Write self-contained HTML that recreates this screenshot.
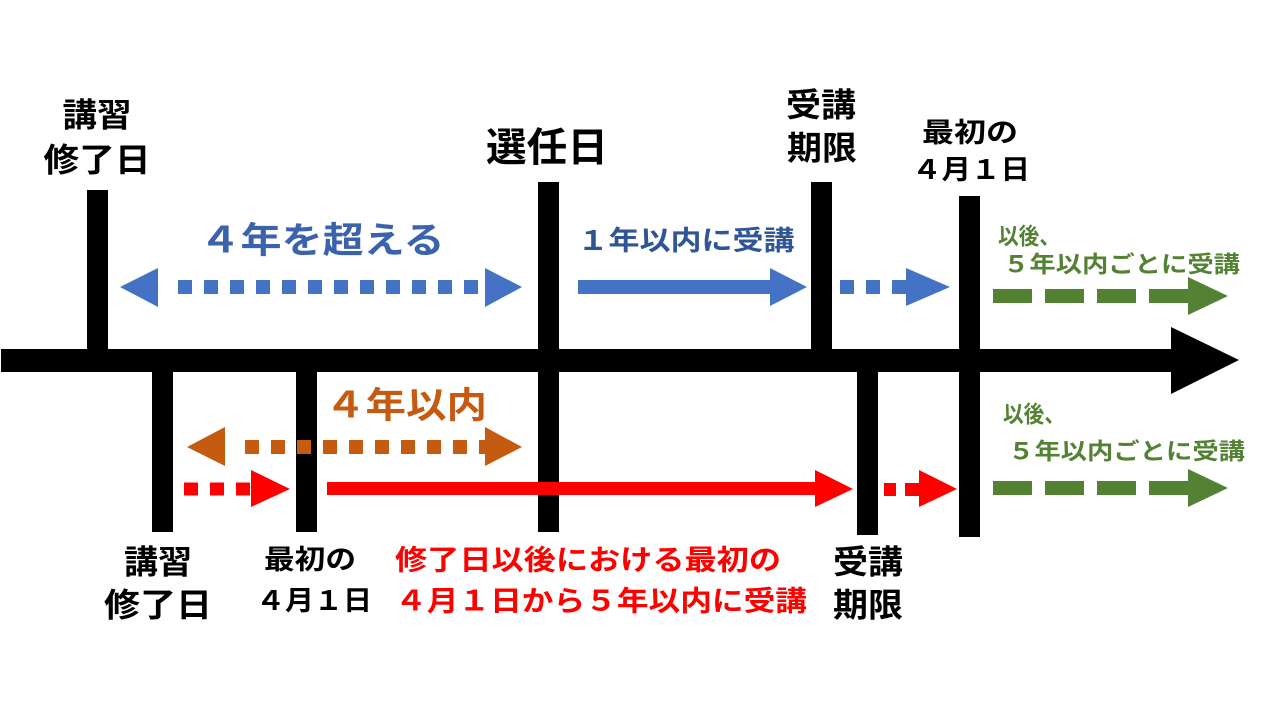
<!DOCTYPE html>
<html><head><meta charset="utf-8"><style>
html,body{margin:0;padding:0;background:#fff;}
svg text{font-family:"Liberation Sans","Noto Sans CJK JP",sans-serif;font-weight:bold;}
</style></head><body>
<svg width="1280" height="720" viewBox="0 0 1280 720" xmlns="http://www.w3.org/2000/svg">
<rect width="1280" height="720" fill="#fff"/>
<rect x="1" y="349" width="1175" height="23" fill="#000"/>
<polygon points="1171,327 1239,360 1171,394" fill="#000"/>
<rect x="87" y="190" width="21" height="170" fill="#000"/>
<rect x="538" y="182" width="21" height="350" fill="#000"/>
<rect x="811" y="182" width="21" height="185" fill="#000"/>
<rect x="959" y="196" width="21" height="341" fill="#000"/>
<rect x="152" y="360" width="21" height="172" fill="#000"/>
<rect x="296" y="360" width="21" height="172" fill="#000"/>
<rect x="857" y="360" width="21" height="175" fill="#000"/>
<line x1="178" y1="287" x2="485" y2="287" stroke="#4472c4" stroke-width="14" stroke-dasharray="14,12"/>
<polygon points="120,287 158,268 158,307" fill="#4472c4"/>
<polygon points="522,287 485,268 485,307" fill="#4472c4"/>
<rect x="578" y="280" width="194" height="14" fill="#4472c4"/>
<polygon points="770,268 807,287 770,306" fill="#4472c4"/>
<line x1="840" y1="287" x2="906" y2="287" stroke="#4472c4" stroke-width="14" stroke-dasharray="14,12"/>
<polygon points="906,268 950,287 906,306" fill="#4472c4"/>
<line x1="993" y1="296" x2="1188" y2="296" stroke="#548235" stroke-width="14" stroke-dasharray="39,13"/>
<polygon points="1188,277 1228,296 1188,315" fill="#548235"/>
<line x1="993" y1="488" x2="1188" y2="488" stroke="#548235" stroke-width="14" stroke-dasharray="39,13"/>
<polygon points="1188,469 1228,488 1188,507" fill="#548235"/>
<line x1="245" y1="447" x2="485" y2="447" stroke="#c55a11" stroke-width="14" stroke-dasharray="14,12"/>
<polygon points="187,447 225,427 225,466" fill="#c55a11"/>
<polygon points="522,447 485,427 485,466" fill="#c55a11"/>
<line x1="184" y1="489" x2="251" y2="489" stroke="#ff0000" stroke-width="13" stroke-dasharray="14,12"/>
<polygon points="251,470 290,489 251,507" fill="#ff0000"/>
<rect x="327" y="482" width="490" height="13" fill="#ff0000"/>
<polygon points="815,470 853,489 815,507" fill="#ff0000"/>
<rect x="884" y="483" width="12" height="13" fill="#ff0000"/>
<rect x="905" y="483" width="16" height="13" fill="#ff0000"/>
<polygon points="919,470 957,489 919,507" fill="#ff0000"/>
<g text-anchor="middle" dominant-baseline="central" fill="#000" lengthAdjust="spacingAndGlyphs">
<text x="97" y="115" font-size="33" textLength="69" lengthAdjust="spacingAndGlyphs">講習</text>
<text x="97" y="160" font-size="33" textLength="107" lengthAdjust="spacingAndGlyphs">修了日</text>
<text x="547" y="148" font-size="40" textLength="122" lengthAdjust="spacingAndGlyphs">選任日</text>
<text x="821" y="105" font-size="33" textLength="70" lengthAdjust="spacingAndGlyphs">受講</text>
<text x="822" y="148" font-size="33" textLength="70" lengthAdjust="spacingAndGlyphs">期限</text>
<text x="970" y="133" font-size="27" textLength="96" lengthAdjust="spacingAndGlyphs">最初の</text>
<text x="971" y="170" font-size="27" textLength="118" lengthAdjust="spacingAndGlyphs">４月１日</text>
<text x="158" y="562" font-size="33" textLength="68" lengthAdjust="spacingAndGlyphs">講習</text>
<text x="158" y="605" font-size="33" textLength="108" lengthAdjust="spacingAndGlyphs">修了日</text>
<text x="310" y="560" font-size="27" textLength="92" lengthAdjust="spacingAndGlyphs">最初の</text>
<text x="314" y="601" font-size="27" textLength="116" lengthAdjust="spacingAndGlyphs">４月１日</text>
<text x="868" y="562" font-size="33" textLength="70" lengthAdjust="spacingAndGlyphs">受講</text>
<text x="868" y="605" font-size="33" textLength="70" lengthAdjust="spacingAndGlyphs">期限</text>
<text x="322" y="240" font-size="36" fill="#3a62ad" textLength="245" lengthAdjust="spacingAndGlyphs">４年を超える</text>
<text x="686" y="241" font-size="27" fill="#2f5597" textLength="217" lengthAdjust="spacingAndGlyphs">１年以内に受講</text>
<text x="406" y="405" font-size="36" fill="#c55a11" textLength="162" lengthAdjust="spacingAndGlyphs">４年以内</text>
<text x="588" y="560" font-size="28" fill="#ff0000" textLength="386" lengthAdjust="spacingAndGlyphs">修了日以後における最初の</text>
<text x="601" y="601" font-size="28" fill="#ff0000" textLength="412" lengthAdjust="spacingAndGlyphs">４月１日から５年以内に受講</text>
</g>
<g dominant-baseline="central" fill="#548235" font-size="23">
<text x="998" y="236" textLength="62" lengthAdjust="spacingAndGlyphs">以後、</text>
<text x="1003" y="264" textLength="237" lengthAdjust="spacingAndGlyphs">５年以内ごとに受講</text>
<text x="1003" y="414" textLength="62" lengthAdjust="spacingAndGlyphs">以後、</text>
<text x="1008" y="451" textLength="237" lengthAdjust="spacingAndGlyphs">５年以内ごとに受講</text>
</g>
</svg>
</body></html>
